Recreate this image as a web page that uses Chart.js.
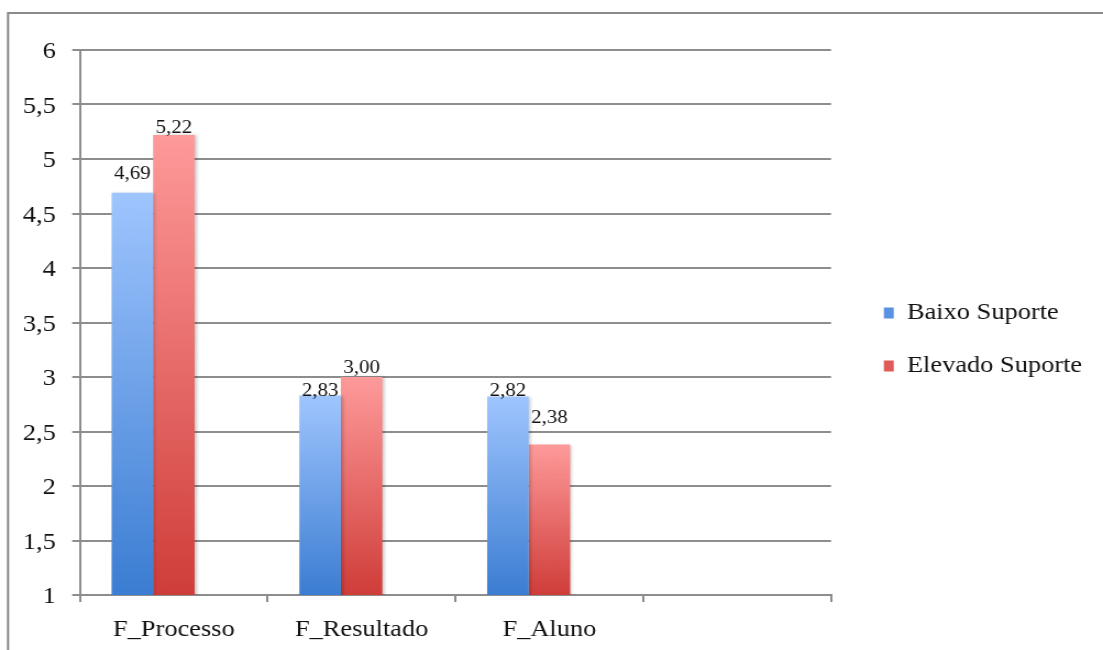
<!DOCTYPE html>
<html>
<head>
<meta charset="utf-8">
<script src="https://cdn.jsdelivr.net/npm/chart.js@4.4.1/dist/chart.umd.min.js"></script>
<style>
  html, body { margin: 0; padding: 0; background: #fff; overflow: hidden; }
  /* the chart is laid out narrower and widened a little, like the exported figure */
  #wrap { width: 1003px; height: 650px; transform: scaleX(1.0997); transform-origin: 0 0; }
</style>
</head>
<body>
<div id="wrap"><canvas id="chart"></canvas></div>
<script>
// ---- data ----
const categories = ['F_Processo', 'F_Resultado', 'F_Aluno', ''];
const seriesNames = ['Baixo Suporte', 'Elevado Suporte'];
const baixoSuporte = [4.69, 2.83, 2.82, null];
const elevadoSuporte = [5.22, 3.00, 2.38, null];
const yMin = 1;
const yMax = 6;
const yStep = 0.5;

// ---- styling ----
const FONT = "'Liberation Serif', 'Times New Roman', serif";
const GRID = '#8d8d8d';
const TEXT = '#111';
const gradientStops = [
  { top: '#9fc5fe', bottom: '#3b7dd2' },   // Baixo Suporte
  { top: '#fe9a9a', bottom: '#cf3d39' }    // Elevado Suporte
];
const legendColors = ['#5a92e2', '#e05a58'];
// baseline of each value label above its bar top, in px
const valueLabelRaise = [[14, 0, 1], [2.5, 4.5, 22]];

const comma = (v, d) => (d == null ? String(v) : v.toFixed(d)).replace('.', ',');

function barGradient(series) {
  return (ctx) => {
    const chart = ctx.chart;
    const v = ctx.raw;
    const stops = gradientStops[series];
    if (!chart.chartArea || v == null) return stops.bottom;
    const y = chart.scales.y;
    const top = y.getPixelForValue(v);
    const base = y.getPixelForValue(yMin);
    const g = chart.ctx.createLinearGradient(0, top, 0, base);
    g.addColorStop(0, stops.top);
    g.addColorStop(1, stops.bottom);
    return g;
  };
}

// outer frame line on the left and top
const framePlugin = {
  id: 'frame',
  beforeDraw(chart) {
    const c = chart.ctx;
    c.save();
    c.strokeStyle = '#8a8a8a';
    c.lineWidth = 2;
    c.beginPath();
    c.moveTo(7.3, chart.height + 2);
    c.lineTo(7.3, 13);
    c.lineTo(chart.width + 2, 13);
    c.stroke();
    c.restore();
  }
};

// soft shadow behind bars, then the value labels
const barExtras = {
  id: 'barExtras',
  beforeDatasetsDraw(chart) {
    const c = chart.ctx;
    c.save();
    c.shadowColor = 'rgba(0,0,0,0.22)';
    c.shadowBlur = 3;
    c.shadowOffsetX = 2;
  },
  afterDatasetsDraw(chart) {
    const c = chart.ctx;
    c.restore();
    c.save();
    c.font = '19px ' + FONT;
    c.fillStyle = TEXT;
    c.textAlign = 'center';
    c.textBaseline = 'alphabetic';
    [0, 1].forEach((di) => {
      const values = chart.data.datasets[di].data;
      chart.getDatasetMeta(di).data.forEach((bar, i) => {
        const v = values[i];
        if (v == null) return;
        c.fillText(comma(v, 2), bar.x, bar.y - valueLabelRaise[di][i]);
      });
    });
    c.restore();
  }
};

Chart.defaults.font.family = FONT;
Chart.defaults.color = TEXT;

new Chart(document.getElementById('chart'), {
  type: 'bar',
  data: {
    labels: categories,
    datasets: [
      { label: seriesNames[0], data: baixoSuporte, backgroundColor: barGradient(0), borderWidth: 0 },
      { label: seriesNames[1], data: elevadoSuporte, backgroundColor: barGradient(1), borderWidth: 0 },
      // empty third series reserves the third slot in each group
      { label: '', data: [null, null, null, null], backgroundColor: 'rgba(0,0,0,0)', borderWidth: 0 }
    ]
  },
  options: {
    responsive: true,
    maintainAspectRatio: false,
    animation: false,
    layout: { padding: { top: 50, left: 0, right: 9, bottom: 0 } },
    datasets: { bar: { categoryPercentage: 0.663, barPercentage: 1 } },
    scales: {
      x: {
        grid: { display: true, drawOnChartArea: false, drawTicks: true, tickLength: 7, color: GRID, lineWidth: 2, offset: true },
        border: { display: true, color: GRID, width: 2 },
        ticks: { font: { size: 24 }, color: TEXT, padding: 13.5, maxRotation: 0, autoSkip: false },
        afterFit: (s) => { s.height = 55; }
      },
      y: {
        min: yMin,
        max: yMax,
        grid: { color: GRID, lineWidth: 2, tickLength: 7 },
        border: { display: true, color: GRID, width: 2 },
        ticks: { stepSize: yStep, font: { size: 24 }, color: TEXT, padding: 15, labelOffset: 2,
                 callback: (v) => comma(v) },
        afterFit: (s) => { s.width = 72.7; }
      },
      spacer: {
        type: 'linear',
        position: 'right',
        grid: { display: false },
        border: { display: false },
        ticks: { display: false },
        afterFit: (s) => { s.width = 19; }
      }
    },
    plugins: {
      tooltip: { enabled: false },
      legend: {
        position: 'right',
        fullSize: false,
        maxWidth: 300,
        title: { display: true, text: '', font: { size: 10 }, padding: 11 },
        labels: {
          font: { size: 24 },
          color: TEXT,
          boxWidth: 9,
          boxHeight: 11,
          padding: 29,
          generateLabels: () => seriesNames.map((name, i) => ({
            text: name, fillStyle: legendColors[i], strokeStyle: legendColors[i],
            lineWidth: 0, hidden: false, datasetIndex: i, fontColor: TEXT
          }))
        }
      }
    }
  },
  plugins: [framePlugin, barExtras]
});
</script>
</body>
</html>
